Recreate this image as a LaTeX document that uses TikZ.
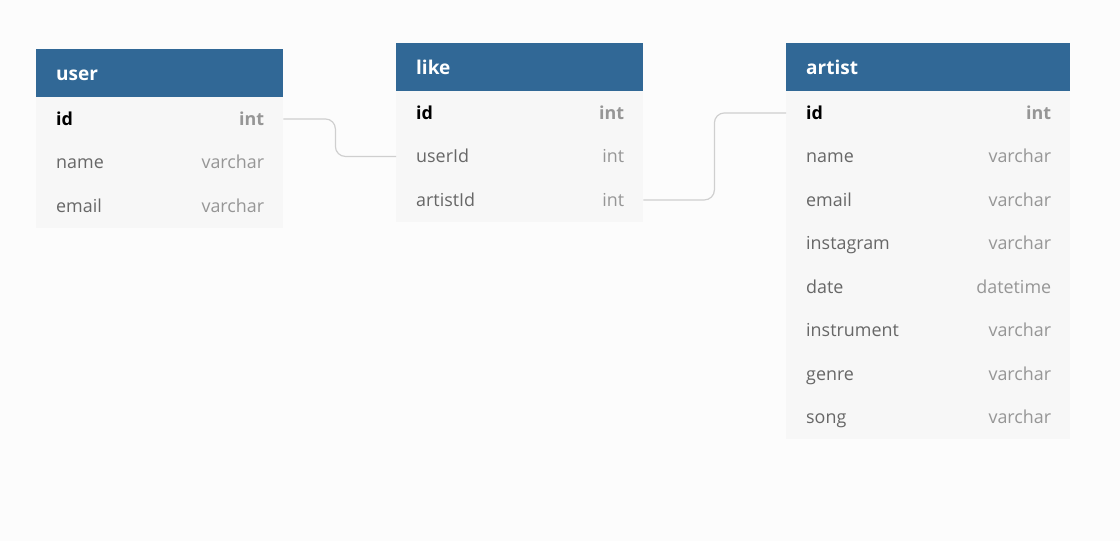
\documentclass[tikz,border=0pt]{standalone}
\usepackage{fontspec}
\setmainfont{Open Sans}
\usepackage{tikz}

\definecolor{headblue}{HTML}{316896}
\definecolor{rowgray}{HTML}{F7F7F7}
\definecolor{pagegray}{HTML}{FCFCFC}
\definecolor{fieldgray}{HTML}{676767}
\definecolor{typegray}{HTML}{969696}
\definecolor{linkgray}{HTML}{CFCFCF}

\tikzset{
	tblhead/.style={rectangle, fill=headblue, anchor=north west, inner xsep=20pt, inner ysep=0pt,
		minimum height=48pt, text height=19pt, text depth=4pt, text=white, align=left,
		font=\fontsize{19}{22}\selectfont\bfseries},
	tblrow/.style={rectangle, fill=rowgray, anchor=north west, inner xsep=19pt, inner ysep=0pt,
		minimum height=43.5pt, text height=17pt, text depth=4pt, text=fieldgray,
		font=\fontsize{17.9}{20}\selectfont},
	keyrow/.style={tblrow, text=black, font=\fontsize{17.9}{20}\selectfont\bfseries},
	link/.style={draw=linkgray, line width=1.2pt, rounded corners=10pt},
}

\begin{document}
\begin{tikzpicture}[x=1pt, y=-1pt]
	\fill[pagegray] (0,0) rectangle (1120,541);
	
	% user
	\node[tblhead, text width=207pt] (user) at (36,49) {user};
	\node[keyrow, text width=209pt] (user-id) at (36,97) {\hspace*{1pt}id\hfill\textcolor{typegray}{int}};
	\node[tblrow, text width=209pt] (user-name) at (36,140.5) {\hspace*{1pt}name\hfill\textcolor{typegray}{varchar}};
	\node[tblrow, text width=209pt] (user-email) at (36,184) {\hspace*{1pt}email\hfill\textcolor{typegray}{varchar}};
	
	% like
	\node[tblhead, text width=207pt] (like) at (396,43) {like};
	\node[keyrow, text width=209pt] (like-id) at (396,91) {\hspace*{1pt}id\hfill\textcolor{typegray}{int}};
	\node[tblrow, text width=209pt] (like-userId) at (396,134.5) {\hspace*{1pt}userId\hfill\textcolor{typegray}{int}};
	\node[tblrow, text width=209pt] (like-artistId) at (396,178) {\hspace*{1pt}artistId\hfill\textcolor{typegray}{int}};
	
	% artist
	\node[tblhead, text width=244pt] (artist) at (786,43) {artist};
	\node[keyrow, text width=246pt] (artist-id) at (786,91) {\hspace*{1pt}id\hfill\textcolor{typegray}{int}};
	\node[tblrow, text width=246pt] (artist-name) at (786,134.5) {\hspace*{1pt}name\hfill\textcolor{typegray}{varchar}};
	\node[tblrow, text width=246pt] (artist-email) at (786,178) {\hspace*{1pt}email\hfill\textcolor{typegray}{varchar}};
	\node[tblrow, text width=246pt] (artist-instagram) at (786,221.5) {\hspace*{1pt}instagram\hfill\textcolor{typegray}{varchar}};
	\node[tblrow, text width=246pt] (artist-date) at (786,265) {\hspace*{1pt}date\hfill\textcolor{typegray}{datetime}};
	\node[tblrow, text width=246pt] (artist-instrument) at (786,308.5) {\hspace*{1pt}instrument\hfill\textcolor{typegray}{varchar}};
	\node[tblrow, text width=246pt] (artist-genre) at (786,352) {\hspace*{1pt}genre\hfill\textcolor{typegray}{varchar}};
	\node[tblrow, text width=246pt] (artist-song) at (786,395.5) {\hspace*{1pt}song\hfill\textcolor{typegray}{varchar}};
	
	\path [link] (user-id.east) -- ++(52,0) |- (like-userId.west);
	\path [link] (like-artistId.east) -- ++(71,0) |- (artist-id.west);
\end{tikzpicture}
\end{document}
